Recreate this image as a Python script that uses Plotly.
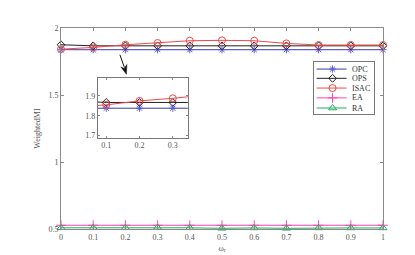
import plotly.graph_objects as go

wr = [0, 0.1, 0.2, 0.3, 0.4, 0.5, 0.6, 0.7, 0.8, 0.9, 1.0]
series_names = ["OPC", "OPS", "ISAC", "EA", "RA"]
opc = [1.838, 1.838, 1.838, 1.838, 1.838, 1.838, 1.838, 1.838, 1.838, 1.838, 1.838]
ops = [1.875, 1.867, 1.867, 1.867, 1.867, 1.867, 1.867, 1.867, 1.867, 1.867, 1.867]
isac = [1.842, 1.855, 1.875, 1.888, 1.905, 1.908, 1.905, 1.885, 1.873, 1.873, 1.873]
ea = [0.528, 0.528, 0.528, 0.528, 0.528, 0.528, 0.528, 0.528, 0.528, 0.528, 0.528]
ra = [0.509, 0.509, 0.509, 0.511, 0.509, 0.505, 0.508, 0.505, 0.508, 0.508, 0.508]
y_ticks = [0.5, 1, 1.5, 2]
x_ticks = wr
inset_x_ticks = [0.1, 0.2, 0.3]
inset_y_ticks = [1.7, 1.8, 1.9]

values = [opc, ops, isac, ea, ra]
line_colors = ["#3c3ca8", "#222222", "#f04848", "#ff40b0", "#20b060"]
marker_colors = ["#5a5ae0", "#222222", "#f04848", "#ff40b0", "#20b060"]
symbols = ["asterisk-open", "diamond-open", "circle-open", "cross-thin-open", "triangle-up-open"]
msizes = [6, 6, 7, 7, 7]

FONT = "Liberation Serif"
AX = "#8a8a8a"
TXT = "#555555"

fig = go.Figure()
for name, v, lc, mc, s, ms in zip(series_names, values, line_colors, marker_colors, symbols, msizes):
    fig.add_trace(go.Scatter(x=wr, y=v, mode="lines+markers", name=name, showlegend=False,
                             line=dict(color=lc, width=1),
                             marker=dict(symbol=s, size=ms, color=mc, line=dict(color=mc, width=1)),
                             cliponaxis=False, xaxis="x", yaxis="y"))
for name, v, lc, mc, s, ms in zip(series_names, values, line_colors, marker_colors, symbols, msizes):
    fig.add_trace(go.Scatter(x=wr, y=v, mode="lines+markers", name=name, showlegend=False,
                             line=dict(color=lc, width=1),
                             marker=dict(symbol=s, size=ms, color=mc, line=dict(color=mc, width=1)),
                             xaxis="x2", yaxis="y2"))

# custom legend (overlay axes in pixel-like units)
leg_y = [7.4, 16.9, 26.9, 37.0, 47.4]
for name, ly, lc, mc, s, ms in zip(series_names, leg_y, line_colors, marker_colors, symbols, msizes):
    fig.add_trace(go.Scatter(x=[3, 33], y=[ly, ly], mode="lines", showlegend=False,
                             line=dict(color=lc, width=1), xaxis="x3", yaxis="y3", hoverinfo="skip"))
    fig.add_trace(go.Scatter(x=[19], y=[ly], mode="markers", showlegend=False,
                             marker=dict(symbol=s, size=ms, color=mc, line=dict(color=mc, width=1)),
                             xaxis="x3", yaxis="y3", hoverinfo="skip"))
    fig.add_annotation(x=36, y=ly, xref="x3", yref="y3", text=name, showarrow=False,
                       xanchor="left", yanchor="middle", font=dict(family=FONT, size=8, color="#333333"))

W, H = 415, 255
L, R, T, B = 53, 375.5, 19.5, 226
pw, ph = R - L, B - T

def px(x):
    return (x - L) / pw

def py(y):
    return (B - y) / ph

fig.update_layout(
    width=W, height=H,
    margin=dict(l=L, r=W - R, t=T, b=H - B, pad=0),
    paper_bgcolor="white", plot_bgcolor="white",
    font=dict(family=FONT, size=8, color=TXT),
    xaxis=dict(range=[0, 1], tickvals=x_ticks, ticktext=[("%g" % t) for t in x_ticks],
               ticks="inside", ticklen=3, tickcolor=AX, showline=True, linecolor=AX, linewidth=1,
               mirror="ticks", showgrid=False, zeroline=False,
               title=dict(text="ω<sub>r</sub>", standoff=4, font=dict(family=FONT, size=8, color=TXT))),
    yaxis=dict(range=[0.5, 2], tickvals=y_ticks, ticktext=[("%g" % t) for t in y_ticks],
               ticks="inside", ticklen=3, tickcolor=AX, showline=True, linecolor=AX, linewidth=1,
               mirror="ticks", showgrid=False, zeroline=False,
               title=dict(text="WeightedMI", standoff=6, font=dict(family=FONT, size=8, color=TXT))),
    xaxis2=dict(domain=[px(90), px(180)], anchor="y2", range=[0.075, 0.345],
                tickvals=inset_x_ticks, ticktext=[("%g" % t) for t in inset_x_ticks],
                ticks="inside", ticklen=2, tickcolor=AX, showline=True, linecolor="#777777",
                linewidth=1, mirror="ticks", showgrid=False, zeroline=False),
    yaxis2=dict(domain=[py(132), py(71)], anchor="x2", range=[1.69, 1.99],
                tickvals=inset_y_ticks, ticktext=[("%.1f" % t) for t in inset_y_ticks],
                ticks="inside", ticklen=2, tickcolor=AX, showline=True, linecolor="#777777",
                linewidth=1, mirror="ticks", showgrid=False, zeroline=False),
    xaxis3=dict(domain=[px(306), px(366)], anchor="y3", range=[0, 60], visible=True,
                showticklabels=False, ticks="", showline=True, linecolor="#777777", mirror=True,
                showgrid=False, zeroline=False, fixedrange=True),
    yaxis3=dict(domain=[py(108.3), py(54.3)], anchor="x3", range=[54, 0],
                showticklabels=False, ticks="", showline=True, linecolor="#777777", mirror=True,
                showgrid=False, zeroline=False, fixedrange=True),
)

# arrow pointing to the zoomed region (shaft + filled head)
fig.add_shape(type="line", xref="paper", yref="paper",
              x0=px(112), y0=py(47), x1=px(116.5), y1=py(60),
              line=dict(color="#111111", width=1))
fig.add_shape(type="path", xref="paper", yref="paper",
              path="M %f,%f L %f,%f L %f,%f L %f,%f Z" % (
                  px(118.5), py(67), px(113), py(59.5), px(116.3), py(61), px(119), py(57)),
              fillcolor="#111111", line=dict(color="#111111", width=0.5))

fig.write_html("out.html")
